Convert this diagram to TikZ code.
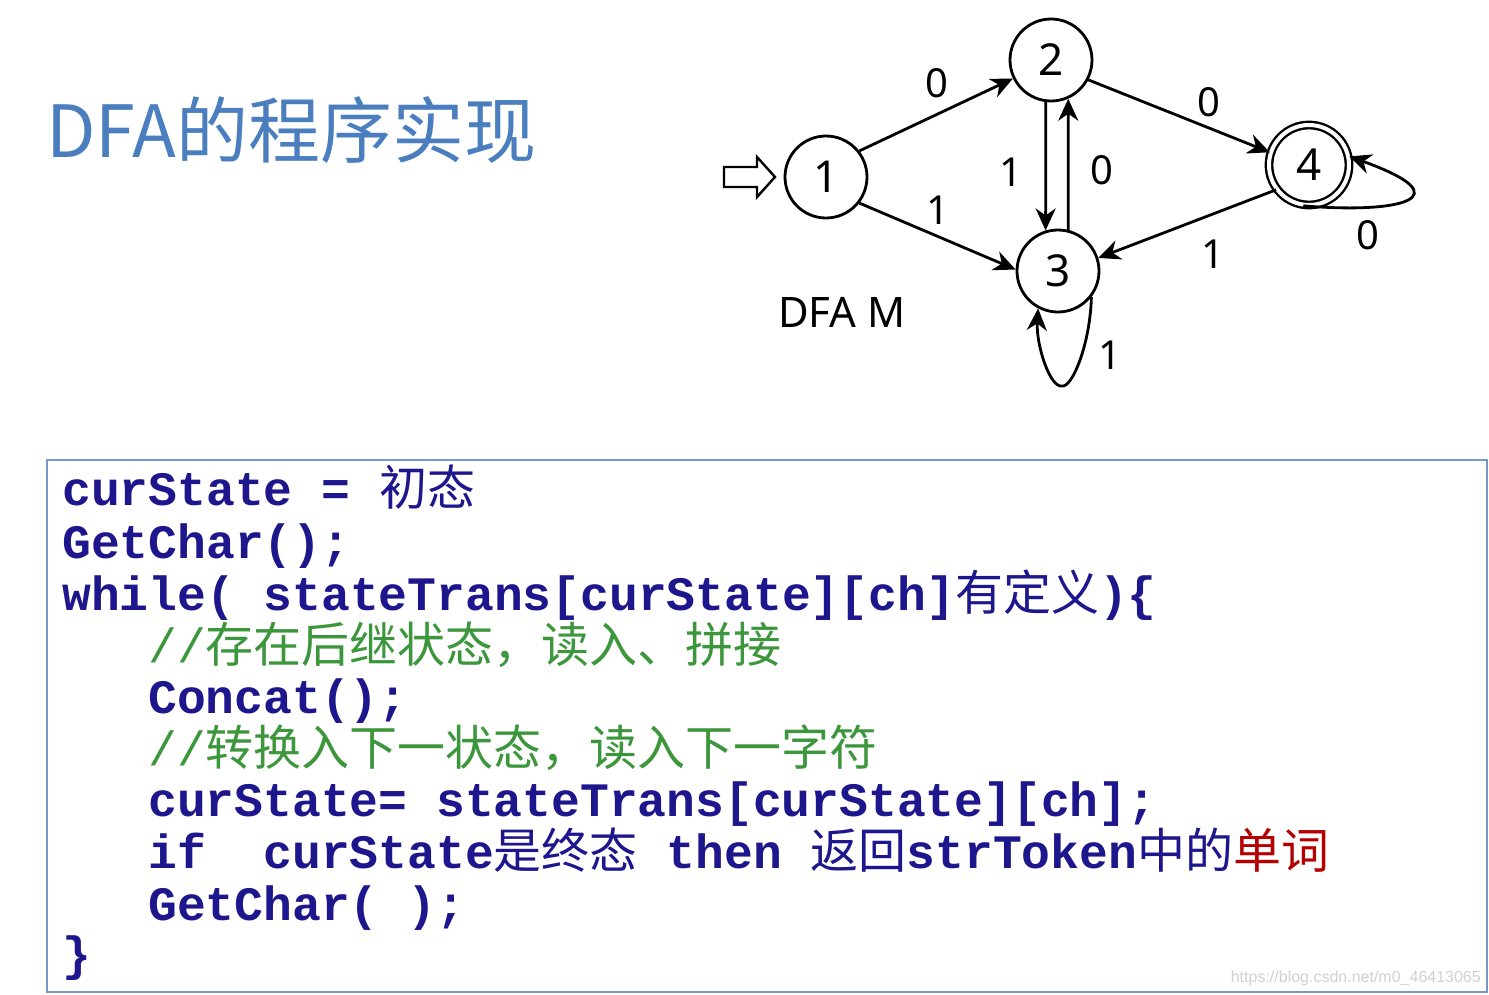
\documentclass[tikz,border=0pt]{standalone}
\usepackage{fontspec}
\setmainfont{Noto Sans}
\newfontfamily\cjk{Noto Sans CJK SC}
\newfontfamily\cm{Liberation Mono}
\newfontfamily\wmfont{Liberation Sans}
\usetikzlibrary{arrows.meta}
\definecolor{titleblue}{RGB}{74,126,190}
\definecolor{codeblue}{RGB}{30,22,140}
\definecolor{cgreen}{RGB}{60,150,60}
\definecolor{cred}{RGB}{180,0,0}
\definecolor{boxblue}{RGB}{120,152,200}
\newcommand\zh[1]{{\cjk\mdseries #1}}
\tikzset{
  state/.style={circle, draw, line width=2.8pt, minimum size=82pt, inner sep=0pt,
    font=\fontsize{44}{44}\selectfont},
  accstate/.style={circle, draw, double, double distance=4pt, line width=2.4pt,
    minimum size=80pt, inner sep=0pt, font=\fontsize{44}{44}\selectfont},
  edge/.style={line width=2.8pt, -{Stealth[length=22pt,width=20pt,inset=7pt]}},
  elabel/.style={inner sep=0pt, font=\fontsize{40}{40}\selectfont},
  codeline/.style={anchor=base west, inner sep=0pt, text=codeblue,
    font=\fontsize{48}{52}\selectfont\cm\bfseries},
  comment/.style={anchor=base west, inner sep=0pt, text=cgreen,
    font=\fontsize{48}{52}\selectfont\cm\mdseries},
}
\begin{document}
\begin{tikzpicture}[x=1pt,y=-1pt]
\useasboundingbox (0,0) rectangle (1489,994);
\fill[white] (0,0) rectangle (1489,994);

% title
\node[anchor=west, inner sep=0pt, text=titleblue, font=\fontsize{72}{72}\selectfont\cjk] (title) at (46,130) {DFA的程序实现};

% DFA
\node[state] (n1) at (826,177) {1};
\node[state] (n2) at (1051,60) {2};
\node[state] (n3) at (1058,271) {3};
\node[accstate] (n4) at (1309,165) {4};

\draw[line width=2.4pt, line join=miter] (724,167) -- (757,167) -- (757,157) -- (775,177) -- (757,197) -- (757,187) -- (724,187) -- cycle;

\draw[edge] (n1.38) -- (n2.206);
\draw[edge] (n1.-38) -- (n3.178);
\draw[edge] (n2.263) -- (n3.107);
\draw[edge] (n3.76) -- (n2.294);
\draw[edge] (n2.-28) -- (n4.162);
\draw[edge] (n4.217) -- (n3.18);
\draw[edge] (n4.262) .. controls (1400,214) and (1465,198) .. (n4.12);
\draw[edge] (n3.-38) .. controls (1090,345) and (1072,388) .. (1062,386) .. controls (1050,388) and (1036,345) .. (n3.-118);

\node[elabel] (l12) at (937,83) {0};
\node[elabel] (l13) at (938,210) {1};
\node[elabel] (l23) at (1011,172) {1};
\node[elabel] (l32) at (1102,170) {0};
\node[elabel] (l24) at (1209,102) {0};
\node[elabel] (l43) at (1213,254) {1};
\node[elabel] (l44) at (1368,235) {0};
\node[elabel] (l33) at (1110,355) {1};
\node[inner sep=0pt, font=\fontsize{42}{42}\selectfont] (dfam) at (842,312) {DFA M};

% code box
\draw[boxblue, line width=2pt] (47,460) rectangle (1487,992);

\node[codeline] (c1) at (62,505) {curState = \zh{初态}};
\node[codeline] (c2) at (62,558) {GetChar();};
\node[codeline] (c3) at (62,610) {while( stateTrans[curState][ch]\zh{有定义})\{};
\node[comment] (c4) at (148,662) {//\zh{存在后继状态，读入、拼接}};
\node[codeline] (c5) at (148,713) {Concat();};
\node[comment] (c6) at (148,765) {//\zh{转换入下一状态，读入下一字符}};
\node[codeline] (c7) at (148,816) {curState= stateTrans[curState][ch];};
\node[codeline] (c8) at (148,868) {if\ \ curState\zh{是终态} then \zh{返回}strToken\zh{中的}{\color{cred}\zh{单词}}};
\node[codeline] (c9) at (148,920) {GetChar( );};
\node[codeline] (c10) at (62,970) {\}};

\node[anchor=base east, inner sep=0pt, text=black!18, font=\fontsize{16}{16}\selectfont\wmfont] (wm) at (1481,982) {https://blog.csdn.net/m0\_46413065};
\end{tikzpicture}
\end{document}
